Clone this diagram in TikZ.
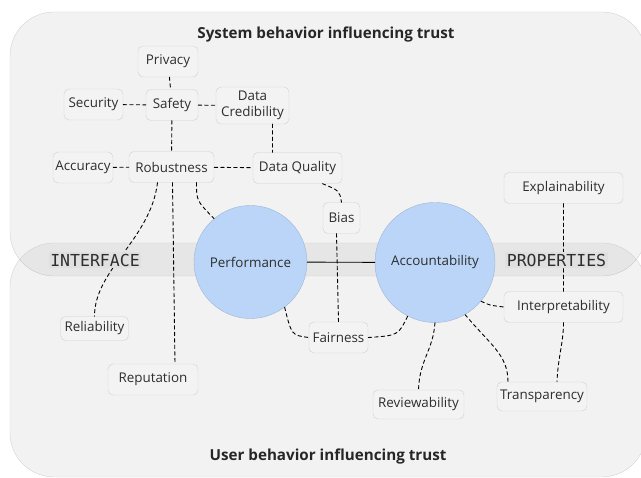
\documentclass[tikz,border=0pt]{standalone}
\usepackage{fontspec}
\setmainfont{Open Sans}
\newfontfamily\bandfont{DejaVu Sans Mono}
\definecolor{regionline}{HTML}{D2D2D2}
\definecolor{boxline}{HTML}{D0D0D0}
\definecolor{boxfill}{HTML}{F3F3F3}
\definecolor{hubfill}{HTML}{BAD5F7}
\definecolor{hubline}{HTML}{9DB4D2}
\definecolor{labeltext}{HTML}{2E2E2E}
\definecolor{tagfill}{HTML}{E0E0E0}
\begin{document}
\begin{tikzpicture}[x=1pt, y=-1pt, font=\fontsize{13.4}{15}\selectfont, line cap=round,
  box/.style={draw=boxline, fill=boxfill, rounded corners=5pt, minimum width=#1, minimum height=31pt, inner sep=1pt, text=labeltext},
  hub/.style={circle, draw=hubline, fill=hubfill, minimum size=#1, inner sep=0pt, text=labeltext},
  link/.style={dash pattern=on 3.5pt off 3pt, line width=0.9pt},
  tag/.style={fill=tagfill, inner sep=1.5pt, text=labeltext, font=\bandfont\fontsize{16.5}{16.5}\selectfont},
  heading/.style={font=\bfseries\fontsize{15.2}{17}\selectfont, text=black!85}]
\useasboundingbox (0,0) rectangle (641,478);
% regions, the band is where they overlap
\draw[draw=regionline, fill=black, fill opacity=0.05, rounded corners=44pt] (10,12) rectangle (646,276);
\draw[draw=regionline, fill=black, fill opacity=0.05, rounded corners=44pt] (10,243) rectangle (646,477);
\node[heading] (systitle) at (326,35) {System behavior influencing trust};
\node[heading] (usertitle) at (328,457) {User behavior influencing trust};
% properties
\node[box=60pt] (priv) at (168,61.5) {Privacy};
\node[box=59pt] (secu) at (93.5,104.5) {Security};
\node[box=52pt] (safe) at (172,105) {Safety};
\node[box=73pt, minimum height=37pt, align=center] (dcred) at (252.5,105.5) {Data\\[1pt]Credibility};
\node[box=60pt] (accu) at (83,167.5) {Accuracy};
\node[box=85pt] (robu) at (171.5,167) {Robustness};
\node[box=89pt] (dqual) at (297.5,168) {Data Quality};
\node[box=37pt] (bias) at (341.5,218) {Bias};
\node[box=119pt] (expl) at (563.5,188) {Explainability};
\node[box=119pt] (interp) at (563.5,307) {Interpretability};
\node[box=59pt] (fair) at (338.5,337.5) {Fairness};
\node[box=91pt, minimum height=29pt] (review) at (418.5,404.5) {Reviewability};
\node[box=90pt, minimum height=29pt] (transp) at (542,396.5) {Transparency};
\node[box=68pt, minimum height=24pt] (relia) at (94.5,328.5) {Reliability};
\node[box=90pt] (reput) at (153,379.5) {Reputation};
\node[hub=113pt] (perf) at (250.5,262) {Performance};
\node[hub=120pt] (acco) at (435,262.5) {Accountability};
% connectors
\draw[link] (priv) -- (safe);
\draw[link] (secu) -- (safe);
\draw[link] (safe) -- (dcred);
\draw[link] (safe) -- (robu);
\draw[link] ([xshift=20pt]dcred.south) -- ([xshift=-25pt]dqual.north);
\draw[link] (accu) -- (robu);
\draw[link] (robu) -- (dqual);
\draw[link] ([xshift=-14pt]robu.south) .. controls +(-7,57) and +(0,-47) .. (relia.north);
\draw[link] ([xshift=1pt]robu.south) -- ([xshift=22pt]reput.north);
\draw[link] ([xshift=25pt]robu.south) .. controls +(0,18) .. (perf.130);
\draw[link] ([xshift=25pt]dqual.south) .. controls +(17,7) .. (bias.north);
\draw[link] ([xshift=-5pt]bias.south) -- (fair.north);
\draw[link] (perf.-53) .. controls +(7,28) .. (fair.west);
\draw[link] (fair.east) .. controls +(30,-2) .. (acco.-117);
\draw[link] (acco.-90) .. controls +(-2,28) and +(1,-30) .. (review.north);
\draw[link] (acco.-60) .. controls +(25,30) and +(0,-27) .. ([xshift=-34pt]transp.north);
\draw[link] (acco.-40) .. controls +(8,4) .. (interp.west);
\draw[link] (expl) -- (interp);
\draw[link] (interp.south) .. controls +(0,20) and +(1,-25) .. ([xshift=15pt]transp.north);
\draw[line width=0.9pt] (perf) -- (acco);
% band labels on top
\node[tag] (iface) at (95,260) {INTERFACE};
\node[tag] (props) at (556.5,260) {PROPERTIES};
\end{tikzpicture}
\end{document}
